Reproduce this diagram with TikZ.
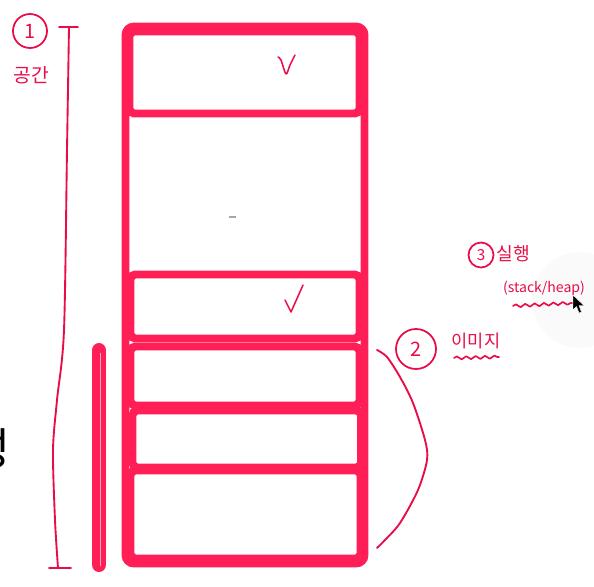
\documentclass[tikz,border=0pt]{standalone}
\usepackage{fontspec}
\newfontfamily\kr{Noto Sans CJK KR}
\usetikzlibrary{decorations.pathmorphing}
\definecolor{boxred}{RGB}{255,30,86}
\definecolor{inkred}{RGB}{232,12,72}
\tikzset{
  frame/.style={draw=boxred, line width=6.6pt, rounded corners=7pt},
  slot/.style={draw=boxred, line width=6.8pt, rounded corners=4pt},
  ink/.style={draw=inkred, line width=1.6pt, line cap=round, line join=round},
  num/.style={circle, draw=inkred, line width=1.5pt, inner sep=0pt, text=inkred, font=\kr\fontsize{17}{17}\selectfont},
  note/.style={text=inkred, inner sep=0pt, font=\kr\fontsize{15}{15}\selectfont},
  wave/.style={ink, line width=1.4pt, decorate, decoration={snake, amplitude=1.3pt, segment length=8pt}},
}
\begin{document}
\begin{tikzpicture}[x=0.03cm, y=-0.03cm]
\useasboundingbox (0,0) rectangle (594,586);
\fill[black!2] (580,300) circle [radius=48];

\draw[frame] (125.5,26.5) rectangle (364.5,563.5);
\draw[slot] (129.5,31.5) rectangle (359.5,113.5);
\draw[slot] (130.5,274.5) rectangle (359.5,338.5);
\draw[slot] (130.5,346.5) rectangle (359.5,405.5);
\draw[slot] (132.5,410.5) rectangle (361,467.5);
\draw[slot] (130.5,470.5) rectangle (360.5,558.5);
\draw[black!35, line width=1.2pt] (229,217) -- (236,217);

\draw[ink, line width=1.3pt] plot[smooth] coordinates {(278,57) (281,60) (286,74) (290,65) (295,55)};
\draw[ink, line width=1.3pt] (285,300) -- (291,312) -- (303,285);

\draw[ink] (59,27) -- (78,27);
\draw[ink] plot[smooth] coordinates {(69,27) (67,150) (64,330) (57,400) (53,450) (55,520) (58,568)};
\draw[ink] (49,568) -- (71,568);
\draw[boxred, line width=12.8pt, line cap=round] (99,350.5) -- (99,564.5);
\draw[white!60!boxred, line width=0.8pt] (100,353) -- (100,566);

\node[num, minimum size=1.02cm] (one) at (30,31) {1};
\node[note, font=\kr\fontsize{16.5}{16.5}\selectfont] (space) at (31,75) {공간};
\node[text=black, inner sep=0pt, font=\kr\fontsize{38}{38}\selectfont] (sung) at (-10,449) {성};

\node[num, minimum size=1.2cm] (two) at (416,349) {2};
\draw[ink] plot[smooth] coordinates {(377,350) (387,357) (400,377) (413,403) (425,440) (427,460) (418,490) (400,523) (385,540) (377,548)};
\node[note] (image) at (476,341) {이미지};
\draw[wave] (454,358) -- (499,357);

\node[num, minimum size=0.75cm, font=\kr\fontsize{13}{13}\selectfont] (three) at (481,255) {3};
\node[note, font=\kr\fontsize{15.5}{15.5}\selectfont] (run) at (513,254) {실행};
\node[note, font=\kr\fontsize{12}{12}\selectfont] (stackheap) at (544,288) {(stack/heap)};
\draw[wave] (513,306) -- (572,303);

\draw[fill=black, draw=white, line width=0.4pt, line join=round] (573,295) -- (573,310) -- (576.5,306.5) -- (579,313) -- (581.5,312) -- (579,305.5) -- (584,305.5) -- cycle;
\end{tikzpicture}
\end{document}
